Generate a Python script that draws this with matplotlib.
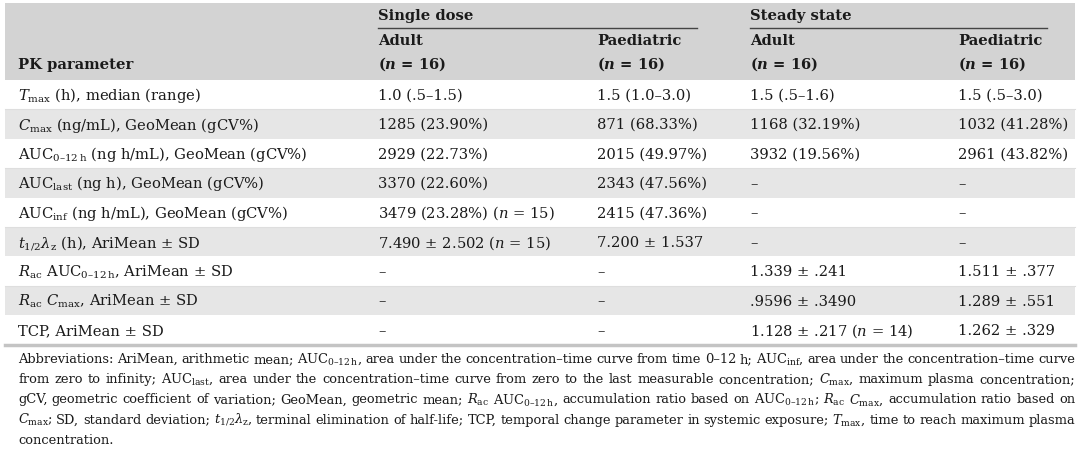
import matplotlib
matplotlib.use("Agg")
import matplotlib.pyplot as plt

FONT = "DejaVu Serif"
plt.rcParams['font.family'] = [FONT]
plt.rcParams['mathtext.fontset'] = 'custom'
plt.rcParams['mathtext.rm'] = FONT
plt.rcParams['mathtext.it'] = FONT + ':italic'
plt.rcParams['mathtext.bf'] = FONT + ':bold'
plt.rcParams['mathtext.bfit'] = FONT + ':italic:bold'

# ---- table content ----
groups = ['Single dose', 'Steady state']
subgroups = ['Adult', 'Paediatric', 'Adult', 'Paediatric']
group_n = [r'($\mathbfit{n}$ = 16)'] * 4
first_col_head = 'PK parameter'

params = [
    r'$T_{\mathrm{max}}$ (h), median (range)',
    r'$C_{\mathrm{max}}$ (ng/mL), GeoMean (gCV%)',
    r'AUC$_{\mathrm{0–12\,h}}$ (ng h/mL), GeoMean (gCV%)',
    r'AUC$_{\mathrm{last}}$ (ng h), GeoMean (gCV%)',
    r'AUC$_{\mathrm{inf}}$ (ng h/mL), GeoMean (gCV%)',
    r'$t_{1/2}\lambda_{\mathrm{z}}$ (h), AriMean ± SD',
    r'$R_{\mathrm{ac}}$ AUC$_{\mathrm{0–12\,h}}$, AriMean ± SD',
    r'$R_{\mathrm{ac}}$ $C_{\mathrm{max}}$, AriMean ± SD',
    'TCP, AriMean ± SD',
]
single_adult = ['1.0 (.5–1.5)', '1285 (23.90%)', '2929 (22.73%)', '3370 (22.60%)',
                r'3479 (23.28%) ($n$ = 15)', r'7.490 ± 2.502 ($n$ = 15)', '–', '–', '–']
single_paed = ['1.5 (1.0–3.0)', '871 (68.33%)', '2015 (49.97%)', '2343 (47.56%)',
               '2415 (47.36%)', '7.200 ± 1.537', '–', '–', '–']
steady_adult = ['1.5 (.5–1.6)', '1168 (32.19%)', '3932 (19.56%)', '–', '–', '–',
                '1.339 ± .241', '.9596 ± .3490', r'1.128 ± .217 ($n$ = 14)']
steady_paed = ['1.5 (.5–3.0)', '1032 (41.28%)', '2961 (43.82%)', '–', '–', '–',
               '1.511 ± .377', '1.289 ± .551', '1.262 ± .329']

notes = [
    r'Abbreviations: AriMean, arithmetic mean; AUC$_{\mathrm{0–12\,h}}$, area under the concentration–time curve from time 0–12 h; AUC$_{\mathrm{inf}}$, area under the concentration–time curve',
    r'from zero to infinity; AUC$_{\mathrm{last}}$, area under the concentration–time curve from zero to the last measurable concentration; $C_{\mathrm{max}}$, maximum plasma concentration;',
    r'gCV, geometric coefficient of variation; GeoMean, geometric mean; $R_{\mathrm{ac}}$ AUC$_{\mathrm{0–12\,h}}$, accumulation ratio based on AUC$_{\mathrm{0–12\,h}}$; $R_{\mathrm{ac}}$ $C_{\mathrm{max}}$, accumulation ratio based on',
    r'$C_{\mathrm{max}}$; SD, standard deviation; $t_{1/2}\lambda_{\mathrm{z}}$, terminal elimination of half-life; TCP, temporal change parameter in systemic exposure; $T_{\mathrm{max}}$, time to reach maximum plasma',
    'concentration.',
]

# ---- layout (pixel units) ----
W, H = 1080, 465
col_x = [18, 378, 597, 750, 958]
left, right = 5, 1075
head_top, head_bot = 3, 80
row_h = 29.4
txt = '#1a1a1a'
fs = 10.6

fig = plt.figure(figsize=(W / 100, H / 100), dpi=100)
ax = fig.add_axes([0, 0, 1, 1])
ax.set_xlim(0, W)
ax.set_ylim(H, 0)
ax.axis('off')

# header
ax.add_patch(plt.Rectangle((left, head_top), right - left, head_bot - head_top,
                           color='#d3d3d3', lw=0))
for g, x0, x1 in zip(groups, [col_x[1], col_x[3]], [697, 1047]):
    ax.text(x0, 16, g, fontsize=fs, fontweight='bold', color=txt, va='center')
    ax.plot([x0, x1], [28, 28], color='#444444', lw=1.0)
for x, s, n in zip(col_x[1:], subgroups, group_n):
    ax.text(x, 41, s, fontsize=fs, fontweight='bold', color=txt, va='center')
    ax.text(x, 64, n, fontsize=fs, fontweight='bold', color=txt, va='center')
ax.text(col_x[0], 65, first_col_head, fontsize=fs, fontweight='bold', color=txt, va='center')

# body
cols = [params, single_adult, single_paed, steady_adult, steady_paed]
for i in range(len(params)):
    y0 = head_bot + i * row_h
    if i % 2 == 1:
        ax.add_patch(plt.Rectangle((left, y0), right - left, row_h, color='#e6e6e6', lw=0))
    else:
        ax.plot([left, right], [y0 + row_h, y0 + row_h], color='#dedede', lw=0.8)
    for x, c in zip(col_x, cols):
        ax.text(x, y0 + row_h / 2 + 1, c[i], fontsize=fs, color=txt, va='center')
bottom = head_bot + len(params) * row_h
ax.plot([left, right], [bottom, bottom], color='#c4c4c4', lw=2.5)

# footnote, justified
fig.canvas.draw()
r = fig.canvas.get_renderer()
fn_fs = 9.4
for k, line in enumerate(notes):
    y = 363 + k * 20.2
    words = line.split(' ')
    arts = [ax.text(0, y, w, fontsize=fn_fs, color=txt, va='baseline') for w in words]
    widths = [a.get_window_extent(r).width for a in arts]
    if k < len(notes) - 1:
        gap = (right - col_x[0] - sum(widths)) / (len(words) - 1)
    else:
        gap = 4
    x = col_x[0]
    for a, w in zip(arts, widths):
        a.set_x(x)
        x += w + gap

fig.savefig('out.png', dpi=100)
